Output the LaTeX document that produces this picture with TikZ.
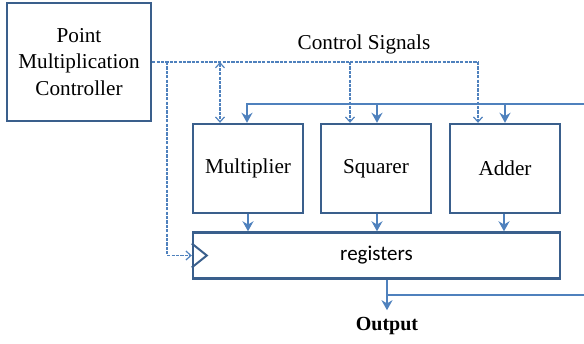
\documentclass[tikz,border=0pt]{standalone}
\usepackage{fontspec}
\setmainfont{Liberation Serif}
\newfontfamily\regfont{Carlito}
\usetikzlibrary{arrows.meta,positioning}
\definecolor{boxblue}{RGB}{58,95,140}
\definecolor{lineblue}{RGB}{79,129,189}

\begin{document}
\begin{tikzpicture}[
    x=0.5pt, y=-0.5pt,
    every node/.style={font=\fontsize{10.6}{13}\selectfont},
    block/.style={draw=boxblue, line width=1.2pt, minimum width=55pt, minimum height=44.5pt, inner sep=0pt},
    bus/.style={draw=lineblue, line width=1.4pt},
    ctrl/.style={draw=lineblue, line width=0.6pt, dash pattern=on 1.6pt off 0.6pt,
        >={Straight Barb[length=2.5pt,width=4.5pt]}},
    >={Stealth[length=5pt,width=5.5pt]}
]
    \useasboundingbox (0,0) rectangle (584,343);

    \node[block, minimum width=72pt, minimum height=59pt, align=center,
        font=\fontsize{10.6}{13.3}\selectfont] (pmc) at (79,62) {Point\\Multiplication\\Controller};
    \node (cs) at (364,44) {Control Signals};

    \node[block] (mul) at (248,168.5) {Multiplier};
    \node[block] (sqr) at (376,168.5) {Squarer};
    \node[block] (add) at (505,168.5) {Adder};
    \node[block, minimum width=183.5pt, minimum height=23pt, font=\regfont\fontsize{10.5}{13}\selectfont] (reg) at (376.5,255.5) {registers};
    \node[font=\bfseries\fontsize{10}{12}\selectfont] (out) at (387,326) {Output};

    % clock input of the registers
    \draw[draw=boxblue, line width=1pt] ([yshift=6pt]reg.west) -- ++(15,12) -- ([yshift=-6pt]reg.west);

    % control signals from the controller
    \coordinate (busC) at (167,62);
    \coordinate (busM) at (220,62);
    \coordinate (busS) at (350,62);
    \coordinate (busA) at (478,62);
    \draw[ctrl] (pmc.east) -- (busA);
    \draw[ctrl,<->] (busM) -- (busM |- mul.north);
    \draw[ctrl,->] (busS) -- (busS |- sqr.north);
    \draw[ctrl,->] (busA) -- (busA |- add.north);
    \draw[ctrl,->] (busC) |- (reg.west);

    % feedback from the register bank
    \coordinate (fbR) at (584,104);
    \coordinate (fbM) at (247,104);
    \coordinate (fbS) at (377,104);
    \coordinate (fbA) at (505,104);
    \draw[bus,->] (fbR) -- (fbM) -- (fbM |- mul.north);
    \draw[bus,->] (fbS) -- (fbS |- sqr.north);
    \draw[bus,->] (fbA) -- (fbA |- add.north);

    \draw[bus,->] (mul) -- (mul |- reg.north);
    \draw[bus,->] (sqr.south -| fbS) -- (fbS |- reg.north);
    \draw[bus,->] (add.south -| 504,0) -- (504,0 |- reg.north);

    % result out of the registers
    \coordinate (tap) at (387,295);
    \coordinate (tapR) at (584,295);
    \draw[bus,->] (out.north |- reg.south) -- (out.north);
    \draw[bus] (tap) -- (tapR);
\end{tikzpicture}
\end{document}
